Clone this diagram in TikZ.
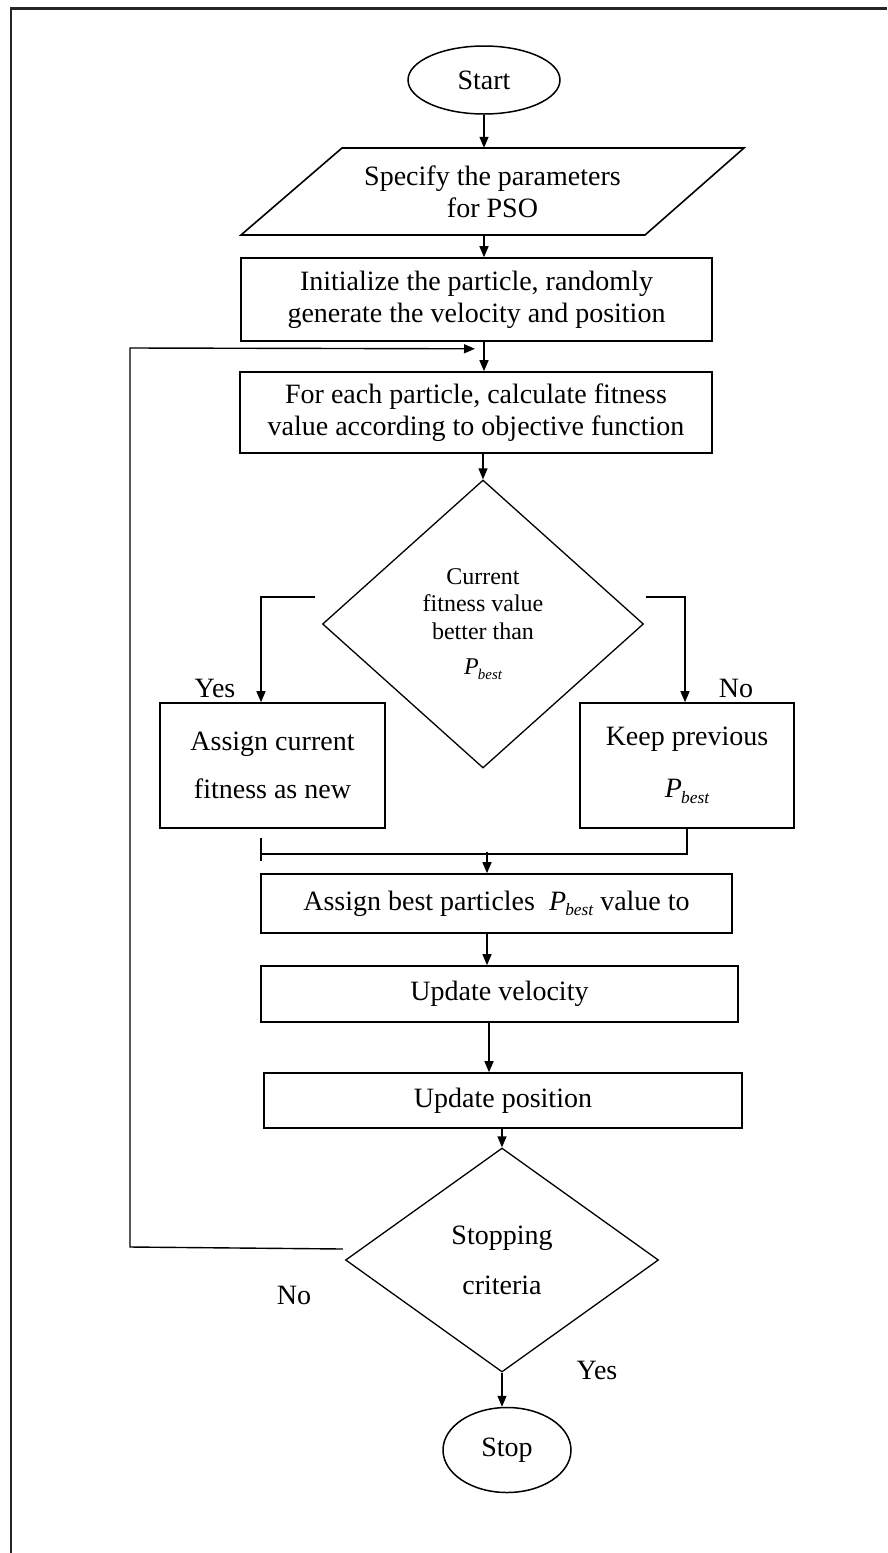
\documentclass[tikz,border=0pt]{standalone}
\usepackage{fontspec}
\setmainfont{Liberation Serif}
\usepackage{graphicx}
\usetikzlibrary{shapes.geometric,arrows.meta,calc}
\newcommand{\Pb}{\textit{P}\kern-0.03em\raisebox{-0.45ex}{\scalebox{0.62}{\itshape best}}}
\begin{document}
\begin{tikzpicture}[x=1pt,y=-1pt,
  every node/.style={font=\fontsize{28}{32}\selectfont},
  boxnode/.style={draw,line width=1.6pt,rectangle,inner sep=0pt,align=center},
  termnode/.style={draw,ellipse,line width=1.5pt,inner sep=0pt},
  decnode/.style={draw,diamond,line width=1.3pt,inner sep=0pt,align=center},
  conn/.style={line width=1.4pt},
  arr/.style={conn,-{Triangle[length=11pt,width=9pt]}}
]
\useasboundingbox (0,0) rectangle (887,1553);
\fill[white] (0,0) rectangle (887,1553);
\draw[line width=2.7pt,black!85,line join=miter] (11,1553) -- (11,8.7) -- (887,8.7);

\node[termnode,minimum width=152pt,minimum height=68pt] (start) at (484,80) {Start};
% parallelogram (input/output)
\coordinate (pTL) at (342,148);
\coordinate (pTR) at (744,148);
\coordinate (pBR) at (645,235);
\coordinate (pBL) at (241,235);
\draw[line width=1.6pt,line join=miter] (pTL) -- (pTR) -- (pBR) -- (pBL) -- cycle;
\node[align=center,inner sep=0pt,minimum width=403pt,minimum height=87pt] (param) at (492.5,191.5)
      {Specify the parameters\\for PSO};
\node[boxnode,minimum width=471pt,minimum height=83pt] (init) at (476.5,299.5)
      {Initialize the particle, randomly\\generate the velocity and position};
\node[boxnode,minimum width=472pt,minimum height=81pt] (fe) at (476,412.5)
      {For each particle, calculate fitness\\value according to objective function};
\node[decnode,minimum width=321pt,minimum height=288pt,font=\fontsize{24}{27.5}\selectfont] (d1) at (483,624)
      {Current\\fitness value\\better than\\[8pt]\Pb};
\node[boxnode,minimum width=225pt,minimum height=125pt] (yes) at (272.5,765.5)
      {Assign current\\[16pt]fitness as new};
\node[boxnode,minimum width=214pt,minimum height=125pt] (no) at (687,765.5)
      {Keep previous\\[20pt]\Pb};
\node[boxnode,minimum width=471pt,minimum height=59pt] (assign) at (496.5,903.5)
      {Assign best particles\ \ \Pb{} value to};
\node[boxnode,minimum width=477pt,minimum height=56pt] (vel) at (499.5,994) {Update velocity};
\node[boxnode,minimum width=478pt,minimum height=55pt] (pos) at (503,1100.5) {Update position};
\node[decnode,minimum width=313pt,minimum height=224pt] (d2) at (502,1260) {Stopping\\[18pt]criteria};
\node[termnode,minimum width=128pt,minimum height=85pt] (stop) at (507,1450) {Stop};

\node (ly1) at (215,688) {Yes};
\node (ln1) at (736,688) {No};
\node (ln2) at (294,1295) {No};
\node (ly2) at (597,1370) {Yes};

\draw[arr] (start.south) -- (start.south |- param.north);
\draw[arr] (param.south -| start.south) -- (init.north -| start.south);
\draw[arr] (init.south -| start.south) -- (fe.north -| start.south);
\draw[arr] ($(d2.west)+(-2,-11)$) -- (130,1247) -- (130,348) -- ($(init.south -| start.south)+(-9,7)$);
\draw[arr] (fe.south -| d1.north) -- (d1.north);
\draw[arr] ($(d1.west)+(-7,-27)$) -| ($(yes.north)+(-11.5,0)$);
\draw[arr] ($(d1.east)+(2,-27)$) -| ($(no.north)+(-2,0)$);
\draw[conn] (no.south) |- ($(yes.south)+(-11.5,25)$);
\draw[conn] ($(yes.south)+(-11.5,9)$) -- ($(yes.south)+(-11.5,32)$);
\draw[arr] ($(assign.north)+(-9.5,-21)$) -- ($(assign.north)+(-9.5,0)$);
\draw[arr] ($(assign.south)+(-9.5,0)$) -- ($(vel.north)+(-12.5,0)$);
\draw[arr] ($(vel.south)+(-10.5,0)$) -- ($(pos.north)+(-14,0)$);
\draw[arr] (pos.south -| d2.north) -- (d2.north);
\draw[arr] (d2.south) -- (d2.south |- stop.north);
\end{tikzpicture}
\end{document}
